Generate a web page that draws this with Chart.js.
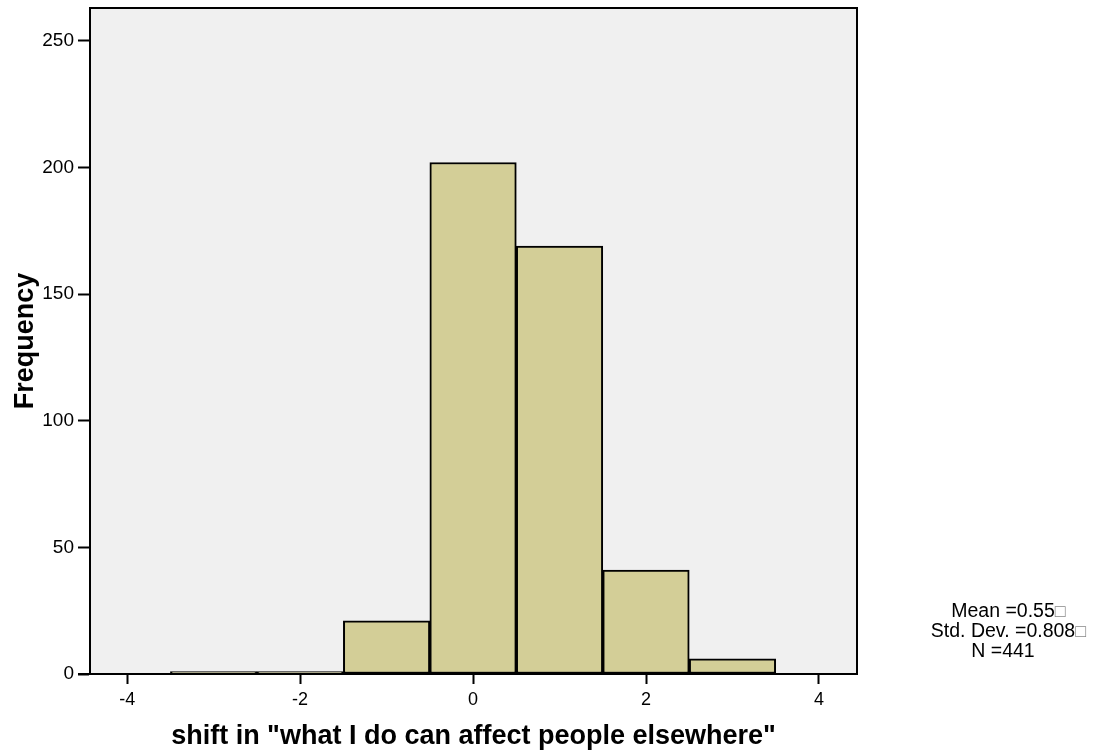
<!DOCTYPE html>
<html>
<head>
<meta charset="utf-8">
<script src="https://cdn.jsdelivr.net/npm/chart.js@4"></script>
<style>
  html, body { margin: 0; padding: 0; background: #fff; }
  #wrap { width: 1096px; height: 753px; }
</style>
</head>
<body>
<div id="wrap"><canvas id="histChart" width="1096" height="753"></canvas></div>
<script>
// histogram bins (bin centre, width 1)
const binCenters = [-3, -2, -1, 0, 1, 2, 3];
const frequencies = [1, 1, 21, 202, 169, 41, 6];
const statLines = ['Mean =0.55', 'Std. Dev. =0.808', 'N =441'];

const FONT = '"Liberation Sans", Arial, Helvetica, sans-serif';

// grey plot background + black frame
const framePlugin = {
    id: 'frame',
    beforeDraw(chart) {
        const a = chart.chartArea, c = chart.ctx;
        c.save();
        c.fillStyle = '#f0f0f0';
        c.fillRect(a.left, a.top, a.right - a.left, a.bottom - a.top);
        c.restore();
    },
    afterDraw(chart) {
        const a = chart.chartArea, c = chart.ctx;
        c.save();
        c.strokeStyle = '#000';
        c.lineWidth = 2;
        c.strokeRect(a.left, a.top, a.right - a.left, a.bottom - a.top);
        // x axis line runs out to the left under the 0 tick
        c.beginPath();
        c.moveTo(a.left - 12, a.bottom);
        c.lineTo(a.left, a.bottom);
        c.stroke();

        // summary statistics
        c.textBaseline = 'middle';
        const cx = 1003;
        statLines.forEach((t, i) => {
            const y = 612 + i * 20;
            c.fillStyle = '#000';
            c.font = '19.5px ' + FONT;
            c.textAlign = 'center';
            c.fillText(t, cx, y);
            if (i < 2) {
                const w = c.measureText(t).width;
                c.textAlign = 'left';
                c.fillStyle = '#888';
                c.font = '18px ' + FONT;
                c.fillText('\u25A1', cx + w / 2, y);
            }
        });
        c.restore();
    }
};

const ctx = document.getElementById('histChart').getContext('2d');
new Chart(ctx, {
    type: 'bar',
    data: {
        datasets: [{
            data: binCenters.map((x, i) => ({ x: x, y: frequencies[i] })),
            backgroundColor: '#d3ce97',
            borderColor: '#000',
            borderWidth: 2,
            borderSkipped: false,
            barPercentage: 1,
            categoryPercentage: 1
        }]
    },
    options: {
        responsive: false,
        animation: false,
        events: [],
        layout: { padding: { left: 0, right: 239, top: 8, bottom: 0 } },
        plugins: { legend: { display: false }, tooltip: { enabled: false } },
        scales: {
            x: {
                type: 'linear',
                min: -4.43,
                max: 4.44,
                offset: false,
                afterFit(s) { s.height = 79; },
                ticks: {
                    stepSize: 2,
                    includeBounds: false,
                    color: '#000',
                    padding: 5,
                    font: { family: FONT, size: 18 }
                },
                grid: {
                    offset: false,
                    drawOnChartArea: false,
                    drawTicks: true,
                    tickLength: 10,
                    tickWidth: 2,
                    tickColor: '#000'
                },
                border: { display: true, color: '#000', width: 2 },
                title: {
                    display: true,
                    text: 'shift in "what I do can affect people elsewhere"',
                    color: '#000',
                    font: { family: FONT, size: 27, weight: 'bold' },
                    padding: { top: 0, bottom: 0 }
                }
            },
            y: {
                min: 0,
                max: 263,
                afterFit(s) {
                    s.width = 90;
                    s.paddingTop = 0;
                    s.paddingBottom = 0;
                },
                ticks: {
                    stepSize: 50,
                    includeBounds: false,
                    color: '#000',
                    padding: 4,
                    font: { family: FONT, size: 19 }
                },
                grid: {
                    drawOnChartArea: false,
                    drawTicks: true,
                    tickLength: 12,
                    tickWidth: 2,
                    tickColor: '#000'
                },
                border: { display: true, color: '#000', width: 2 },
                title: {
                    display: true,
                    text: 'Frequency',
                    color: '#000',
                    font: { family: FONT, size: 27, weight: 'bold' },
                    padding: { top: 9, bottom: 0 }
                }
            }
        }
    },
    plugins: [framePlugin]
});
</script>
</body>
</html>
